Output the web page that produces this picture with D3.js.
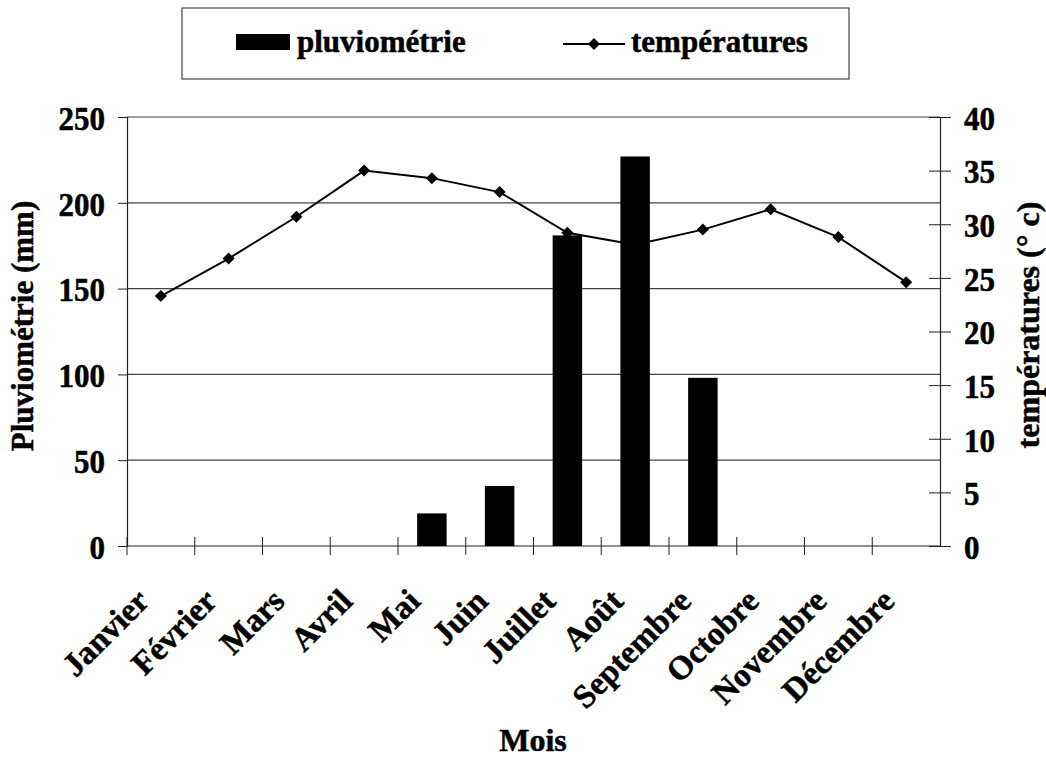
<!DOCTYPE html>
<html><head><meta charset="utf-8">
<script src="https://cdn.jsdelivr.net/npm/d3@7"></script>
<style>body{margin:0;background:#fff}svg{display:block}text{font-family:"Liberation Serif","Times New Roman",serif;font-weight:bold;fill:#000;stroke:#000;stroke-width:0.5px}</style>
</head><body><svg id="c" width="1046" height="761"></svg>
<script>
const months = ["Janvier","Février","Mars","Avril","Mai","Juin","Juillet","Août","Septembre","Octobre","Novembre","Décembre"];
const rain = [0,0,0,0,19,35,181,227,98,0,0,0];
const temp = [23.3,26.8,30.7,35.0,34.3,33.0,29.2,28.1,29.5,31.4,28.8,24.6];
const rainTicks = [0,50,100,150,200,250];
const tempTicks = [0,5,10,15,20,25,30,35,40];

const svg = d3.select("#c");
const L=127,R=940,T=117,B=546;
const x = d3.scaleBand().domain(months).range([L,R]).paddingInner(0.565).paddingOuter(0.2825);
const xc = d3.scaleBand().domain(months).range([L,R]);
const y = d3.scaleLinear().domain([0,250]).range([B,T]);
const y2 = d3.scaleLinear().domain([0,40]).range([B,T]);

// gridlines
svg.append("g").selectAll("line").data(rainTicks.filter(d=>d>0)).join("line")
  .attr("x1",L).attr("x2",R).attr("y1",d=>y(d)).attr("y2",d=>y(d))
  .attr("stroke","#444").attr("stroke-width",1.2);

// left axis
const gl = svg.append("g").attr("transform",`translate(${L},0)`)
  .call(d3.axisLeft(y).tickValues(rainTicks).tickSize(9).tickPadding(13));
gl.select(".domain").attr("stroke","#222").attr("stroke-width",1.2);
gl.selectAll(".tick line").attr("stroke","#222");
gl.selectAll("text").style("font-size","31px").attr("dy","0.36em").attr("transform","scale(1,1.1)");

// right axis (cross ticks)
const gr = svg.append("g").attr("transform",`translate(${R},0)`)
  .call(d3.axisRight(y2).tickValues(tempTicks).tickSize(11).tickPadding(13));
gr.select(".domain").attr("stroke","#222").attr("stroke-width",1.2);
gr.selectAll(".tick line").attr("x1",-11).attr("stroke","#222");
gr.selectAll("text").style("font-size","31px").attr("dy","0.36em").attr("transform","scale(1,1.1)");

// x axis
svg.append("line").attr("x1",L).attr("x2",R).attr("y1",B).attr("y2",B).attr("stroke","#222").attr("stroke-width",1.2);
const bounds = d3.range(0,months.length).map(i=>L+i*xc.step());
svg.append("g").selectAll("line").data(bounds).join("line")
  .attr("x1",d=>d).attr("x2",d=>d).attr("y1",B-9).attr("y2",B+9).attr("stroke","#222");
svg.append("g").selectAll("text").data(months).join("text")
  .attr("text-anchor","end").style("font-size","33px")
  .attr("transform",d=>`translate(${xc(d)+xc.bandwidth()/2-10},${B+57}) rotate(-45)`)
  .text(d=>d);

// temperature line
const line = d3.line().x((d,i)=>xc(months[i])+xc.bandwidth()/2).y(d=>y2(d));
svg.append("path").datum(temp).attr("d",line).attr("fill","none").attr("stroke","#000").attr("stroke-width",2);

// bars
svg.append("g").selectAll("rect").data(rain.map((v,i)=>({m:months[i],v}))).join("rect")
  .attr("x",d=>x(d.m)).attr("width",x.bandwidth())
  .attr("y",d=>y(d.v)).attr("height",d=>B-y(d.v)).attr("fill","#000");

// markers
const diamond = d3.symbol().type(d3.symbolSquare).size(72);
svg.append("g").selectAll("path").data(temp).join("path")
  .attr("d",diamond())
  .attr("transform",(d,i)=>`translate(${xc(months[i])+xc.bandwidth()/2},${y2(d)}) rotate(45)`)
  .attr("fill","#000");

// axis titles
svg.append("text").attr("transform",`translate(33,326) rotate(-90)`).attr("text-anchor","middle").style("font-size","31px").text("Pluviométrie (mm)");
svg.append("text").attr("transform",`translate(1039,325) rotate(-90)`).attr("text-anchor","middle").style("font-size","32px").text("températures (° c)");
svg.append("text").attr("x",533).attr("y",751).attr("text-anchor","middle").style("font-size","32px").text("Mois");

// legend
const lg = svg.append("g");
lg.append("rect").attr("x",182).attr("y",8).attr("width",667).attr("height",71).attr("fill","none").attr("stroke","#444").attr("stroke-width",1.2);
lg.append("rect").attr("x",236).attr("y",34).attr("width",54).attr("height",16).attr("fill","#000");
lg.append("text").attr("x",297).attr("y",52).style("font-size","31px").text("pluviométrie");
lg.append("line").attr("x1",563).attr("x2",625).attr("y1",44).attr("y2",44).attr("stroke","#000").attr("stroke-width",2);
lg.append("path").attr("d",diamond()).attr("transform","translate(594,44) rotate(45)").attr("fill","#000");
lg.append("text").attr("x",631).attr("y",52).style("font-size","31px").text("températures");
</script></body></html>
